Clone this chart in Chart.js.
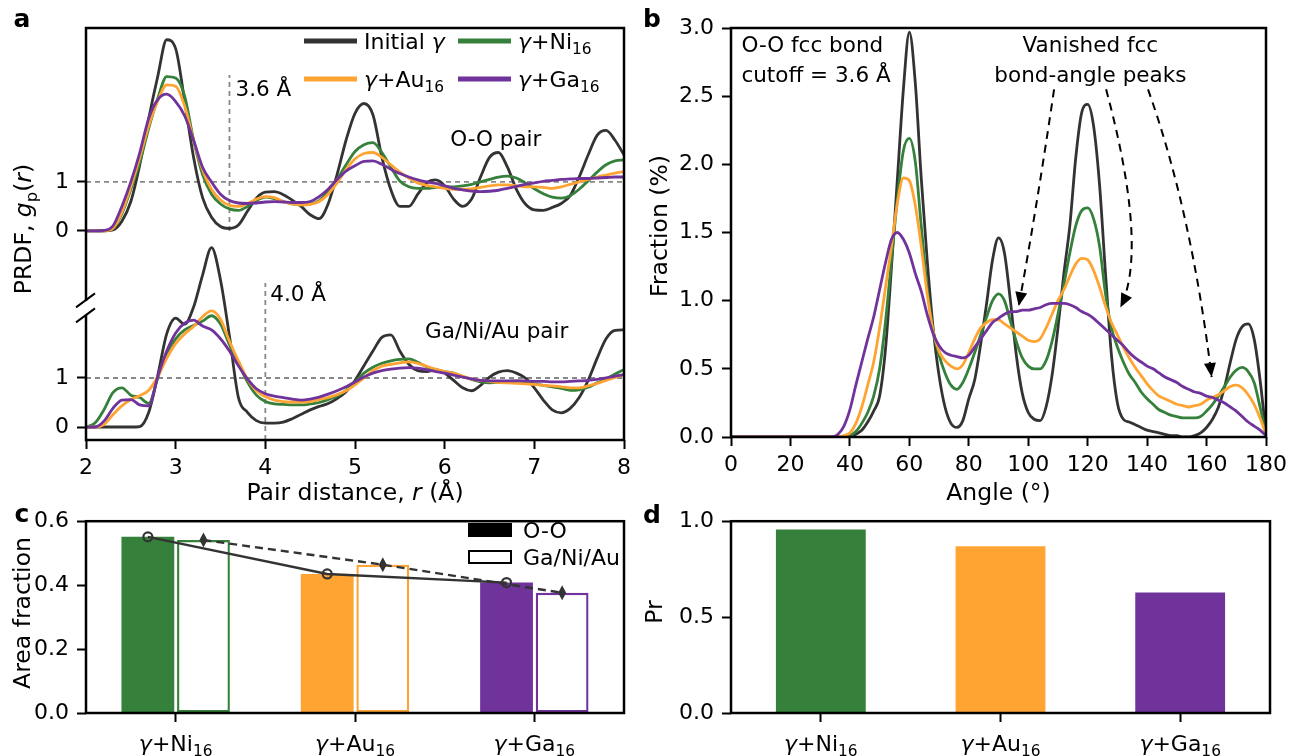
<!DOCTYPE html>
<html><head><meta charset="utf-8">
<script src="https://cdn.jsdelivr.net/npm/chart.js@4.4.1/dist/chart.umd.min.js"></script>
<style>
html,body{margin:0;padding:0;background:#fff;}
body{width:1293px;height:756px;position:relative;overflow:hidden}
canvas{position:absolute;display:block}
</style></head><body>
<canvas id="ca" width="640" height="512" style="left:0;top:0"></canvas>
<canvas id="cb" width="653" height="512" style="left:640px;top:0"></canvas>
<canvas id="cc" width="640" height="256" style="left:0;top:500px"></canvas>
<canvas id="cd" width="653" height="256" style="left:640px;top:500px"></canvas>
<script>
// ---------------- DATA ----------------
const seriesLabels = ['Initial *γ*', '*γ*+Ni_{16}', '*γ*+Au_{16}', '*γ*+Ga_{16}'];
const systems = ['*γ*+Ni_{16}', '*γ*+Au_{16}', '*γ*+Ga_{16}'];

// Panel a: pair distance r (Å)
const pairDistance = [2.0,2.1,2.2,2.3,2.4,2.5,2.6,2.7,2.8,2.9,3.0,3.1,3.2,3.3,3.4,3.5,3.6,3.7,3.8,3.9,
  4.0,4.1,4.2,4.3,4.4,4.5,4.6,4.7,4.8,4.9,5.0,5.1,5.2,5.3,5.4,5.5,5.6,5.7,5.8,5.9,
  6.0,6.1,6.2,6.3,6.4,6.5,6.6,6.7,6.8,6.9,7.0,7.1,7.2,7.3,7.4,7.5,7.6,7.7,7.8,7.9,8.0];
const prdfTickValues = [0, 1, 4, 5];
const prdfTickLabels = ['0', '1', '0', '1'];
const ooOffset = 4;
// O-O pair PRDF
const ooInitial = [0,0,0,0.02,0.2,0.6,1.35,2.3,3.15,3.9, 3.72,2.65,1.5,0.68,0.28,0.09,0.05,0.12,0.4,0.67,
  0.79,0.8,0.74,0.63,0.5,0.33,0.25,0.55,1.15,1.85, 2.4,2.6,2.37,1.5,0.84,0.5,0.5,0.75,0.98,1.04,
  0.92,0.65,0.5,0.65,1.1,1.5,1.6,1.3,0.85,0.55, 0.43,0.42,0.48,0.56,0.72,1.1,1.55,1.95,2.05,1.85, 1.55];
const ooNi = [0,0,0,0.05,0.35,0.85,1.4,2.1,2.7,3.15, 3.12,2.75,1.85,1.15,0.75,0.55,0.45,0.42,0.5,0.62,
  0.69,0.66,0.6,0.55,0.53,0.55,0.62,0.8,1.05,1.35, 1.62,1.76,1.8,1.6,1.3,1.02,0.9,0.87,0.87,0.89,
  0.9,0.9,0.92,0.95,1.0,1.05,1.1,1.12,1.08,0.98, 0.86,0.76,0.69,0.67,0.72,0.85,1.02,1.2,1.35,1.43, 1.45];
const ooAu = [0,0,0,0.05,0.38,0.9,1.5,2.15,2.65,2.98, 2.95,2.55,1.85,1.25,0.85,0.63,0.52,0.5,0.56,0.65,
  0.7,0.68,0.6,0.55,0.53,0.54,0.6,0.75,0.98,1.25, 1.47,1.58,1.6,1.5,1.35,1.2,1.08,0.98,0.93,0.9,
  0.87,0.85,0.85,0.86,0.89,0.92,0.94,0.94,0.92,0.9, 0.9,0.89,0.87,0.9,0.95,1.0,1.05,1.1,1.14,1.18, 1.21];
const ooGa = [0,0,0.01,0.1,0.5,1.0,1.6,2.3,2.68,2.79, 2.64,2.35,1.85,1.3,1.0,0.75,0.62,0.57,0.56,0.57,
  0.59,0.6,0.59,0.58,0.58,0.6,0.7,0.85,1.05,1.22, 1.33,1.42,1.43,1.36,1.26,1.17,1.1,1.04,1.0,0.97,
  0.92,0.87,0.84,0.81,0.8,0.81,0.83,0.87,0.91,0.95, 0.98,1.01,1.03,1.05,1.06,1.07,1.07,1.08,1.09,1.1, 1.1];
// Ga/Ni/Au pair PRDF
const gnaInitial = [0,0,0,0,0,0,0.01,0.3,1.05,1.9, 2.22,2.1,2.45,3.1,3.66,3.0,1.85,0.6,0.3,0.13,
  0.08,0.08,0.1,0.17,0.26,0.35,0.42,0.48,0.58,0.72, 0.95,1.25,1.55,1.83,1.88,1.55,1.28,1.15,1.13,1.17,
  1.1,0.95,0.8,0.74,0.85,1.02,1.12,1.15,1.1,1.0, 0.8,0.55,0.35,0.29,0.38,0.6,0.95,1.4,1.8,1.97, 1.98];
const gnaNi = [0,0.08,0.35,0.7,0.8,0.65,0.6,0.48,1.0,1.5, 1.8,1.98,2.07,2.16,2.27,2.1,1.68,1.3,0.92,0.65,
  0.52,0.47,0.46,0.45,0.45,0.47,0.5,0.56,0.63,0.75, 0.92,1.1,1.22,1.3,1.35,1.38,1.39,1.32,1.23,1.17,
  1.13,1.1,1.03,0.97,0.92,0.9,0.91,0.93,0.94,0.92, 0.88,0.85,0.82,0.79,0.75,0.76,0.81,0.9,0.98,1.08, 1.17];
const gnaAu = [0,0,0.05,0.25,0.43,0.56,0.64,0.75,1.03,1.4, 1.7,1.9,2.05,2.25,2.37,2.2,1.75,1.35,0.98,0.74,
  0.62,0.55,0.52,0.51,0.51,0.52,0.56,0.6,0.66,0.74, 0.86,1.0,1.15,1.24,1.28,1.31,1.33,1.3,1.24,1.18,
  1.13,1.1,1.04,0.98,0.95,0.93,0.91,0.9,0.89,0.88, 0.87,0.85,0.84,0.82,0.8,0.8,0.84,0.89,0.95,1.01, 1.07];
const gnaGa = [0,0,0.12,0.38,0.55,0.56,0.45,0.43,1.03,1.55, 1.92,2.12,2.18,2.06,1.98,1.8,1.55,1.25,0.98,0.78,
  0.68,0.63,0.6,0.57,0.55,0.57,0.61,0.67,0.74,0.82, 0.92,1.02,1.1,1.15,1.18,1.2,1.21,1.2,1.17,1.13,
  1.1,1.06,1.02,0.98,0.95,0.94,0.94,0.94,0.94,0.94, 0.93,0.93,0.92,0.92,0.93,0.94,0.95,0.97,1.0,1.04, 1.07];

// Panel b: bond angle (degrees) vs fraction (%)
const angleDeg = [0,20,30,32,34,
  36,38,40,42,44,46,48,50,52,54, 56,58,60,62,64,66,68,70,72,74,
  76,78,80,82,84,86,88,90,92,94, 96,98,100,102,104,106,108,110,112,114,
  116,118,120,122,124,126,128,130,132,134, 136,138,140,142,144,146,148,150,152,154,
  156,158,160,162,164,166,168,170,172,174, 176,178,180];
const angInitial = [0,0,0,0,0,
  0,0,0,0.02,0.05,0.11,0.19,0.3,0.65,1.25, 1.9,2.55,2.97,2.6,1.9,1.3,0.8,0.45,0.22,0.1,
  0.07,0.12,0.28,0.42,0.68,0.98,1.3,1.46,1.35,1.0, 0.6,0.32,0.18,0.13,0.12,0.22,0.45,0.8,1.2,1.55,
  2.05,2.38,2.44,2.28,1.85,1.2,0.6,0.25,0.13,0.11, 0.09,0.07,0.05,0.04,0.03,0.02,0.01,0.01,0,0,
  0.01,0.03,0.07,0.13,0.22,0.36,0.55,0.72,0.81,0.83, 0.72,0.42,0.02];
const angNi = [0,0,0,0,0,
  0,0,0.01,0.04,0.1,0.18,0.3,0.5,0.85,1.3, 1.75,2.1,2.19,2.02,1.55,1.1,0.78,0.6,0.47,0.38,
  0.35,0.4,0.5,0.62,0.75,0.88,1.0,1.05,1.0,0.85, 0.7,0.58,0.52,0.5,0.5,0.56,0.7,0.9,1.12,1.35,
  1.55,1.66,1.68,1.6,1.4,1.05,0.8,0.66,0.55,0.46, 0.4,0.33,0.28,0.24,0.2,0.18,0.16,0.15,0.14,0.14,
  0.14,0.15,0.19,0.24,0.3,0.37,0.44,0.49,0.51,0.48, 0.4,0.22,0.02];
const angAu = [0,0,0,0,0,
  0,0.01,0.03,0.1,0.22,0.38,0.55,0.8,1.1,1.4, 1.72,1.9,1.88,1.7,1.4,1.05,0.78,0.63,0.56,0.52,
  0.5,0.53,0.62,0.72,0.8,0.84,0.86,0.86,0.83,0.8, 0.77,0.74,0.71,0.7,0.72,0.8,0.9,1.0,1.08,1.18,
  1.27,1.31,1.3,1.22,1.1,0.96,0.84,0.75,0.66,0.58, 0.51,0.45,0.39,0.34,0.3,0.28,0.26,0.24,0.23,0.22,
  0.23,0.24,0.27,0.29,0.31,0.34,0.37,0.38,0.36,0.31, 0.24,0.14,0.02];
const angGa = [0,0,0,0,0,
  0.02,0.08,0.2,0.38,0.55,0.72,0.88,1.08,1.28,1.45, 1.5,1.45,1.35,1.2,1.07,0.9,0.76,0.67,0.62,0.6,
  0.59,0.58,0.6,0.66,0.72,0.78,0.84,0.87,0.9,0.92, 0.92,0.93,0.93,0.94,0.95,0.97,0.98,0.98,0.98,0.97,
  0.95,0.92,0.9,0.87,0.83,0.79,0.75,0.71,0.67,0.62, 0.58,0.55,0.52,0.5,0.47,0.44,0.42,0.4,0.37,0.35,
  0.33,0.32,0.3,0.29,0.27,0.25,0.22,0.19,0.15,0.11, 0.08,0.05,0.01];

// Panel c: area fraction
const areaOO = [0.551, 0.435, 0.408];
const areaGNA = [0.541, 0.464, 0.376];
// Panel d: Pr
const prValues = [0.957, 0.870, 0.628];

// ---------------- STYLE ----------------
const FAMILY = "'DejaVu Sans', sans-serif";
const C = {init:'#333333', ni:'#35803a', au:'#ffa433', ga:'#70339c'};
const seriesColors = [C.init, C.ni, C.au, C.ga];
const sysColors = [C.ni, C.au, C.ga];
const TICK = 22, TITLE = 23.5, ANNO = 21.5;
Chart.defaults.font.family = FAMILY;

function fontStr(size, it, bold){ return (it?'italic ':'')+(bold?'bold ':'')+size+'px '+FAMILY; }
function parseRich(s){
  const parts=[]; let it=false, sub=false, buf='';
  const push=()=>{ if(buf){ parts.push({t:buf,it,sub}); buf=''; } };
  for(let i=0;i<s.length;i++){
    const c=s[i];
    if(c==='*'){ push(); it=!it; }
    else if(c==='_' && s[i+1]==='{'){ push(); sub=true; i++; }
    else if(c==='}' && sub){ push(); sub=false; }
    else buf+=c;
  }
  push(); return parts;
}
function drawRich(ctx, s, x, cy, size, align, color, bold){
  const parts=parseRich(s); const ss=size*0.7; let total=0;
  const ws=parts.map(p=>{ ctx.font=fontStr(p.sub?ss:size,p.it,bold); const w=ctx.measureText(p.t).width; total+=w; return w; });
  let cx = align==='center' ? x-total/2 : (align==='right' ? x-total : x);
  const base = cy + size*0.36;
  ctx.save(); ctx.fillStyle=color||'#000'; ctx.textAlign='left'; ctx.textBaseline='alphabetic';
  parts.forEach((p,i)=>{ ctx.font=fontStr(p.sub?ss:size,p.it,bold); ctx.fillText(p.t, cx, base + (p.sub? size*0.22 : 0)); cx+=ws[i]; });
  ctx.restore(); return total;
}
function drawRichRot(ctx, s, x, cy, size){
  ctx.save(); ctx.translate(x,cy); ctx.rotate(-Math.PI/2); drawRich(ctx,s,0,0,size,'center'); ctx.restore();
}
function drawBox(ctx, a){
  ctx.save(); ctx.strokeStyle='#000'; ctx.lineWidth=2.5;
  ctx.strokeRect(a.left, a.top, a.right-a.left, a.bottom-a.top); ctx.restore();
}
const gridCfg = () => ({display:true, drawOnChartArea:false, drawTicks:true, tickLength:9, tickWidth:2, tickColor:'#000', color:'#000'});
const tickFont = {family:FAMILY, size:TICK};
function lineDS(xs, ys, color, order, offset){
  return {data: xs.map((x,i)=>({x:x, y:ys[i]+(offset||0)})), borderColor:color, borderWidth:2.8,
    pointRadius:0, fill:false, cubicInterpolationMode:'monotone', order:order};
}
const baseOpts = {responsive:false, animation:false, events:[], plugins:{legend:{display:false}, tooltip:{enabled:false}}};

// ---------------- PANEL A ----------------
const ooSeries = [ooInitial, ooNi, ooAu, ooGa];
const gnaSeries = [gnaInitial, gnaNi, gnaAu, gnaGa];
const dsA = [];
ooSeries.forEach((s,i)=>dsA.push(lineDS(pairDistance, s, seriesColors[i], 4-i, ooOffset)));
gnaSeries.forEach((s,i)=>dsA.push(lineDS(pairDistance, s, seriesColors[i], 4-i, 0)));

const pluginA = {
  id:'pa',
  beforeDatasetsDraw(chart){
    const {ctx, chartArea:a, scales:{x,y}} = chart;
    ctx.save(); ctx.setLineDash([5,4]); ctx.strokeStyle='#888'; ctx.lineWidth=1.8;
    [1, 1+ooOffset].forEach(v=>{ const py=y.getPixelForValue(v); ctx.beginPath(); ctx.moveTo(a.left,py); ctx.lineTo(a.right,py); ctx.stroke(); });
    let px=x.getPixelForValue(3.6); ctx.beginPath(); ctx.moveTo(px,y.getPixelForValue(ooOffset)); ctx.lineTo(px,y.getPixelForValue(ooOffset+3.18)); ctx.stroke();
    px=x.getPixelForValue(4.0); ctx.beginPath(); ctx.moveTo(px,a.bottom); ctx.lineTo(px,y.getPixelForValue(2.94)); ctx.stroke();
    ctx.restore();
  },
  afterDraw(chart){
    const {ctx, chartArea:a, scales:{x,y}} = chart;
    drawBox(ctx, a);
    // axis break marks
    const cy = y.getPixelForValue(2.43);
    ctx.save(); ctx.strokeStyle='#fff'; ctx.lineWidth=5; ctx.beginPath(); ctx.moveTo(a.left, cy-7); ctx.lineTo(a.left, cy+7); ctx.stroke();
    ctx.strokeStyle='#000'; ctx.lineWidth=2;
    [-7.5, 7.5].forEach(d=>{ ctx.beginPath(); ctx.moveTo(a.left-10, cy+d+7); ctx.lineTo(a.left+9, cy+d-7); ctx.stroke(); });
    ctx.restore();
    // annotations
    drawRich(ctx, '3.6 Å', x.getPixelForValue(3.6)+6, y.getPixelForValue(ooOffset+2.92), ANNO, 'left');
    drawRich(ctx, 'O-O pair', x.getPixelForValue(6.57), y.getPixelForValue(ooOffset+1.9), ANNO, 'center');
    drawRich(ctx, '4.0 Å', x.getPixelForValue(4.0)+5, y.getPixelForValue(2.73), ANNO, 'left');
    drawRich(ctx, 'Ga/Ni/Au pair', x.getPixelForValue(6.58), y.getPixelForValue(1.98), ANNO, 'center');
    // legend
    const colX=[a.left+218, a.left+372], rowY=[a.top+13, a.top+51];
    seriesLabels.forEach((lab,i)=>{
      const cx=colX[i%2], ry=rowY[Math.floor(i/2)];
      ctx.save(); ctx.strokeStyle=seriesColors[i]; ctx.lineWidth=5; ctx.beginPath(); ctx.moveTo(cx,ry); ctx.lineTo(cx+53,ry); ctx.stroke(); ctx.restore();
      drawRich(ctx, lab, cx+60, ry, 22, 'left');
    });
    // titles
    drawRich(ctx, 'Pair distance, *r* (Å)', (a.left+a.right)/2, 492, TITLE, 'center');
    drawRichRot(ctx, 'PRDF, *g*_{p}(*r*)', 23, 229, TITLE);
    drawRich(ctx, 'a', 22, 18, 25, 'center', '#000', true);
  }
};
new Chart(document.getElementById('ca'), {
  type:'line', data:{datasets:dsA},
  options:Object.assign({}, baseOpts, {
    layout:{padding:{top:28, right:16, left:0, bottom:0}},
    scales:{
      x:{type:'linear', min:2, max:8, afterFit:s=>{s.height=72;},
        ticks:{stepSize:1, font:tickFont, color:'#000', padding:6, maxRotation:0, autoSkip:false},
        grid:gridCfg(), border:{display:false}},
      y:{type:'linear', min:-0.265, max:8.14, afterFit:s=>{s.width=86;},
        afterBuildTicks:s=>{ s.ticks = prdfTickValues.map(v=>({value:v})); },
        ticks:{font:tickFont, color:'#000', padding:8, callback:(v,i)=>prdfTickLabels[i]},
        grid:gridCfg(), border:{display:false}}
    }
  }),
  plugins:[pluginA]
});

// ---------------- PANEL B ----------------
const angSeries = [angInitial, angNi, angAu, angGa];
const dsB = angSeries.map((s,i)=>lineDS(angleDeg, s, seriesColors[i], 4-i, 0));
const arrowPaths = [
  [[108.7,2.55],[103,1.7],[96.8,0.96]],
  [[126.2,2.55],[133,2.0],[139,1.3],[131,0.95]],
  [[140.3,2.55],[155,1.65],[161.7,0.44]]
];
const pluginB = {
  id:'pb',
  afterDraw(chart){
    const {ctx, chartArea:a, scales:{x,y}} = chart;
    drawBox(ctx, a);
    drawRich(ctx, 'O-O fcc bond', x.getPixelForValue(3.5), y.getPixelForValue(2.88), ANNO, 'left');
    drawRich(ctx, 'cutoff = 3.6 Å', x.getPixelForValue(3.5), y.getPixelForValue(2.66), ANNO, 'left');
    drawRich(ctx, 'Vanished fcc', x.getPixelForValue(120.9), y.getPixelForValue(2.88), ANNO, 'center');
    drawRich(ctx, 'bond-angle peaks', x.getPixelForValue(120.9), y.getPixelForValue(2.66), ANNO, 'center');
    arrowPaths.forEach(path=>{
      const p = path.map(q=>[x.getPixelForValue(q[0]), y.getPixelForValue(q[1])]);
      ctx.save(); ctx.strokeStyle='#000'; ctx.lineWidth=2; ctx.setLineDash([8,6]);
      ctx.beginPath(); ctx.moveTo(p[0][0],p[0][1]);
      if(p.length===3) ctx.quadraticCurveTo(p[1][0],p[1][1],p[2][0],p[2][1]);
      else ctx.bezierCurveTo(p[1][0],p[1][1],p[2][0],p[2][1],p[3][0],p[3][1]);
      ctx.stroke(); ctx.setLineDash([]);
      const e=p[p.length-1], c=p[p.length-2];
      const ang=Math.atan2(e[1]-c[1], e[0]-c[0]);
      const L=14, W=6;
      ctx.fillStyle='#000'; ctx.beginPath(); ctx.moveTo(e[0],e[1]);
      ctx.lineTo(e[0]-L*Math.cos(ang)+W*Math.sin(ang), e[1]-L*Math.sin(ang)-W*Math.cos(ang));
      ctx.lineTo(e[0]-L*Math.cos(ang)-W*Math.sin(ang), e[1]-L*Math.sin(ang)+W*Math.cos(ang));
      ctx.closePath(); ctx.fill(); ctx.restore();
    });
    drawRich(ctx, 'Angle (°)', (a.left+a.right)/2, 492, TITLE, 'center');
    drawRichRot(ctx, 'Fraction (%)', 19, 226, TITLE);
    drawRich(ctx, 'b', 12, 18, 25, 'center', '#000', true);
  }
};
new Chart(document.getElementById('cb'), {
  type:'line', data:{datasets:dsB},
  options:Object.assign({}, baseOpts, {
    layout:{padding:{top:28, right:23, left:0, bottom:0}},
    scales:{
      x:{type:'linear', min:0, max:180, afterFit:s=>{s.height=75;},
        ticks:{stepSize:20, font:tickFont, color:'#000', padding:6, maxRotation:0, autoSkip:false},
        grid:gridCfg(), border:{display:false}},
      y:{type:'linear', min:0, max:3, afterFit:s=>{s.width=91;},
        ticks:{stepSize:0.5, font:tickFont, color:'#000', padding:8, callback:v=>Number(v).toFixed(1)},
        grid:gridCfg(), border:{display:false}}
    }
  }),
  plugins:[pluginB]
});

// ---------------- PANEL C ----------------
function drawCatLabels(chart){
  const {ctx, chartArea:a, scales:{x}} = chart;
  systems.forEach((s,i)=>drawRich(ctx, s, x.getPixelForTick(i), a.bottom+30, 22, 'center'));
}
const pluginC = {
  id:'pc',
  afterDatasetsDraw(chart){
    const {ctx} = chart;
    const m0 = chart.getDatasetMeta(0).data, m1 = chart.getDatasetMeta(1).data;
    ctx.save(); ctx.strokeStyle='#333'; ctx.lineWidth=2.4;
    ctx.beginPath(); m0.forEach((b,i)=>{ i?ctx.lineTo(b.x,b.y):ctx.moveTo(b.x,b.y); }); ctx.stroke();
    ctx.setLineDash([8,5]);
    ctx.beginPath(); m1.forEach((b,i)=>{ i?ctx.lineTo(b.x,b.y):ctx.moveTo(b.x,b.y); }); ctx.stroke();
    ctx.setLineDash([]);
    m0.forEach(b=>{ ctx.beginPath(); ctx.arc(b.x,b.y,4.5,0,Math.PI*2); ctx.lineWidth=2.2; ctx.stroke(); });
    ctx.fillStyle='#333';
    m1.forEach(b=>{ ctx.beginPath(); ctx.moveTo(b.x,b.y-7.5); ctx.lineTo(b.x+4,b.y); ctx.lineTo(b.x,b.y+7.5); ctx.lineTo(b.x-4,b.y); ctx.closePath(); ctx.fill(); });
    ctx.restore();
  },
  afterDraw(chart){
    const {ctx, chartArea:a} = chart;
    drawBox(ctx, a);
    drawCatLabels(chart);
    // legend
    const lx = a.left+382;
    ctx.save(); ctx.fillStyle='#000'; ctx.fillRect(lx, 23, 44, 14);
    ctx.strokeStyle='#000'; ctx.lineWidth=2; ctx.strokeRect(lx+1, 51, 42, 12); ctx.restore();
    drawRich(ctx, 'O-O', lx+55, 30, 22, 'left');
    drawRich(ctx, 'Ga/Ni/Au', lx+55, 57, 22, 'left');
    drawRichRot(ctx, 'Area fraction', 22, 113, TITLE);
    drawRich(ctx, 'c', 22, 13, 25, 'center', '#000', true);
  }
};
new Chart(document.getElementById('cc'), {
  type:'bar',
  data:{labels:systems, datasets:[
    {label:'O-O', data:areaOO, backgroundColor:sysColors, borderWidth:0, categoryPercentage:0.62, barPercentage:0.95},
    {label:'Ga/Ni/Au', data:areaGNA, backgroundColor:'#ffffff', borderColor:sysColors, borderWidth:2.4, borderSkipped:false, categoryPercentage:0.62, barPercentage:0.95}
  ]},
  options:Object.assign({}, baseOpts, {
    layout:{padding:{top:13, right:16, left:0, bottom:0}},
    scales:{
      x:{afterFit:s=>{s.height=43;}, ticks:{color:'rgba(0,0,0,0)', font:tickFont, maxRotation:0, autoSkip:false},
        grid:Object.assign(gridCfg(), {offset:false}), border:{display:false}},
      y:{min:0, max:0.6, afterFit:s=>{s.width=86;},
        ticks:{stepSize:0.2, font:tickFont, color:'#000', padding:8, callback:v=>Number(v).toFixed(1)},
        grid:gridCfg(), border:{display:false}}
    }
  }),
  plugins:[pluginC]
});

// ---------------- PANEL D ----------------
const pluginD = {
  id:'pd',
  afterDraw(chart){
    const {ctx, chartArea:a} = chart;
    drawBox(ctx, a);
    drawCatLabels(chart);
    drawRichRot(ctx, 'Pr', 14, 112, TITLE);
    drawRich(ctx, 'd', 12, 14, 25, 'center', '#000', true);
  }
};
new Chart(document.getElementById('cd'), {
  type:'bar',
  data:{labels:systems, datasets:[
    {label:'Pr', data:prValues, backgroundColor:sysColors, borderWidth:0, categoryPercentage:0.5, barPercentage:1.0}
  ]},
  options:Object.assign({}, baseOpts, {
    layout:{padding:{top:13, right:23, left:0, bottom:0}},
    scales:{
      x:{afterFit:s=>{s.height=43;}, ticks:{color:'rgba(0,0,0,0)', font:tickFont, maxRotation:0, autoSkip:false},
        grid:Object.assign(gridCfg(), {offset:false}), border:{display:false}},
      y:{min:0, max:1.0, afterFit:s=>{s.width=91;},
        ticks:{stepSize:0.5, font:tickFont, color:'#000', padding:8, callback:v=>Number(v).toFixed(1)},
        grid:gridCfg(), border:{display:false}}
    }
  }),
  plugins:[pluginD]
});
</script></body></html>
